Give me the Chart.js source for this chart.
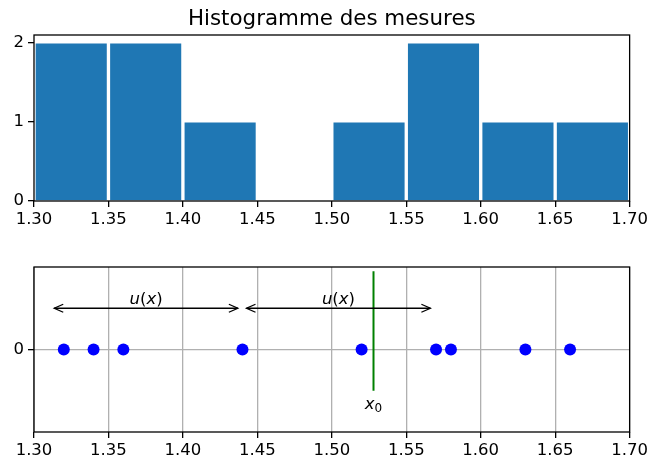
<!DOCTYPE html>
<html>
<head>
<meta charset="utf-8">
<script src="https://cdn.jsdelivr.net/npm/chart.js@4.4.1/dist/chart.umd.min.js"></script>
<style>
    html, body { margin: 0; padding: 0; background: #fff; }
    #wrap { position: relative; width: 651px; height: 464px; }
    canvas { position: absolute; left: 0; }
    #histChart { top: 0; }
    #pointsChart { top: 240px; }
</style>
</head>
<body>
<div id="wrap">
    <canvas id="histChart" width="651" height="240"></canvas>
    <canvas id="pointsChart" width="651" height="224"></canvas>
</div>
<script>
// histogram
const binEdges = [1.30, 1.35, 1.40, 1.45, 1.50, 1.55, 1.60, 1.65, 1.70];
const binCounts = [2, 2, 1, 0, 1, 2, 1, 1];
const xTicks = [1.30, 1.35, 1.40, 1.45, 1.50, 1.55, 1.60, 1.65, 1.70];
const histYTicks = [0, 1, 2];
const histTitle = 'Histogramme des mesures';

// measures on a line
const measures = [1.32, 1.34, 1.36, 1.44, 1.52, 1.57, 1.58, 1.63, 1.66];
const pointsYTicks = [0];
const x0 = 1.528;
const x0Span = [-0.5, 0.95];
const arrowStarts = [1.3136, 1.4427];
const arrowEnds = [1.4369, 1.5662];
const arrowY = 0.5;
const uLabelY = 0.55;
const x0LabelY = -0.72;

const FONT = '"DejaVu Sans", sans-serif';
const TICK_SIZE = 16.5;
Chart.defaults.font.family = FONT;
Chart.defaults.color = '#000';

const binCenters = binCounts.map((c, i) => (binEdges[i] + binEdges[i + 1]) / 2);

// frame around the plot area, like matplotlib spines
const spines = {
    id: 'spines',
    afterDatasetsDraw(chart) {
        const { ctx, chartArea: a } = chart;
        ctx.save();
        ctx.strokeStyle = '#000';
        ctx.lineWidth = 1.3;
        ctx.strokeRect(a.left, a.top, a.right - a.left, a.bottom - a.top);
        ctx.restore();
    }
};

// title centred over the axes, not over the canvas
const axesTitle = {
    id: 'axesTitle',
    afterDraw(chart) {
        const { ctx, chartArea: a } = chart;
        ctx.save();
        ctx.fillStyle = '#000';
        ctx.font = '21.4px ' + FONT;
        ctx.textAlign = 'center';
        ctx.textBaseline = 'alphabetic';
        ctx.fillText(histTitle, (a.left + a.right) / 2, a.top - 10);
        ctx.restore();
    }
};

function xAxis(height, gridOnArea) {
    return {
        type: 'linear', min: binEdges[0], max: binEdges[binEdges.length - 1], offset: false,
        afterBuildTicks: s => { s.ticks = xTicks.map(v => ({ value: v })); },
        afterFit: s => { s.height = height; },
        grid: { drawOnChartArea: gridOnArea, color: '#b0b0b0', lineWidth: 1.3, tickLength: 6, tickColor: '#000', tickWidth: 1.3, offset: false },
        border: { display: false },
        ticks: { color: '#000', font: { size: TICK_SIZE }, padding: 3, maxRotation: 0, autoSkip: false, callback: v => v.toFixed(2) }
    };
}

function yAxis(min, max, tickList, gridOnArea) {
    return {
        min, max,
        afterBuildTicks: s => { s.ticks = tickList.map(v => ({ value: v })); },
        afterFit: s => { s.width = 34; },
        grid: { drawOnChartArea: gridOnArea, color: '#b0b0b0', lineWidth: 1.3, tickLength: 6, tickColor: '#000', tickWidth: 1.3 },
        border: { display: false },
        ticks: { color: '#000', font: { size: TICK_SIZE }, padding: 4, callback: v => String(v) }
    };
}

new Chart(document.getElementById('histChart'), {
    type: 'bar',
    data: {
        datasets: [{
            data: binCenters.map((x, i) => ({ x, y: binCounts[i] })),
            backgroundColor: '#1f77b4',
            borderColor: '#fff',
            borderWidth: { top: 1, left: 2, right: 2, bottom: 0 },
            barPercentage: 1,
            categoryPercentage: 1
        }]
    },
    options: {
        responsive: false,
        animation: false,
        devicePixelRatio: 1,
        layout: { padding: { left: 0, right: 21, top: 35, bottom: 0 } },
        plugins: {
            legend: { display: false },
            tooltip: { enabled: false },
            title: { display: false }
        },
        scales: {
            x: xAxis(39, false),
            y: yAxis(0, 2.1, histYTicks, false)
        }
    },
    plugins: [spines, axesTitle]
});

// mathtext-like label: list of [text, italic, size, dy]
function drawMath(ctx, parts, cx, baseY) {
    let total = 0;
    parts.forEach(p => {
        ctx.font = (p[1] ? 'italic ' : '') + p[2] + 'px ' + FONT;
        total += ctx.measureText(p[0]).width;
    });
    let x = cx - total / 2;
    parts.forEach(p => {
        ctx.font = (p[1] ? 'italic ' : '') + p[2] + 'px ' + FONT;
        ctx.fillText(p[0], x, baseY + p[3]);
        x += ctx.measureText(p[0]).width;
    });
}

function arrowHead(ctx, tipX, y, dir) {
    ctx.beginPath();
    ctx.moveTo(tipX + dir * 9, y - 4);
    ctx.lineTo(tipX, y);
    ctx.lineTo(tipX + dir * 9, y + 4);
    ctx.stroke();
}

const annotations = {
    id: 'annotations',
    afterDatasetsDraw(chart) {
        const { ctx, scales: { x, y } } = chart;
        ctx.save();
        ctx.strokeStyle = '#000';
        ctx.fillStyle = '#000';
        ctx.lineWidth = 1.3;
        ctx.textBaseline = 'alphabetic';
        arrowStarts.forEach((s, i) => {
            const x1 = x.getPixelForValue(s);
            const x2 = x.getPixelForValue(arrowEnds[i]);
            const py = y.getPixelForValue(arrowY);
            ctx.beginPath();
            ctx.moveTo(x1, py);
            ctx.lineTo(x2, py);
            ctx.stroke();
            arrowHead(ctx, x1, py, 1);
            arrowHead(ctx, x2, py, -1);
            drawMath(ctx, [['u', true, TICK_SIZE, 0], ['(', false, TICK_SIZE, 0], ['x', true, TICK_SIZE, 0], [')', false, TICK_SIZE, 0]],
                (x1 + x2) / 2, y.getPixelForValue(uLabelY));
        });
        drawMath(ctx, [['x', true, TICK_SIZE, 0], ['0', false, 12, 3.5]],
            x.getPixelForValue(x0), y.getPixelForValue(x0LabelY));
        ctx.restore();
    }
};

new Chart(document.getElementById('pointsChart'), {
    type: 'scatter',
    data: {
        datasets: [{
            type: 'line',
            data: x0Span.map(v => ({ x: x0, y: v })),
            borderColor: 'green',
            borderWidth: 2,
            pointRadius: 0,
            showLine: true
        }, {
            data: measures.map(v => ({ x: v, y: 0 })),
            backgroundColor: 'blue',
            borderWidth: 0,
            pointRadius: 6
        }]
    },
    options: {
        responsive: false,
        animation: false,
        devicePixelRatio: 1,
        layout: { padding: { left: 0, right: 21, top: 27, bottom: 0 } },
        plugins: {
            legend: { display: false },
            tooltip: { enabled: false }
        },
        scales: {
            x: xAxis(32, true),
            y: yAxis(-1, 1, pointsYTicks, true)
        }
    },
    plugins: [annotations, spines]
});
</script>
</body>
</html>
